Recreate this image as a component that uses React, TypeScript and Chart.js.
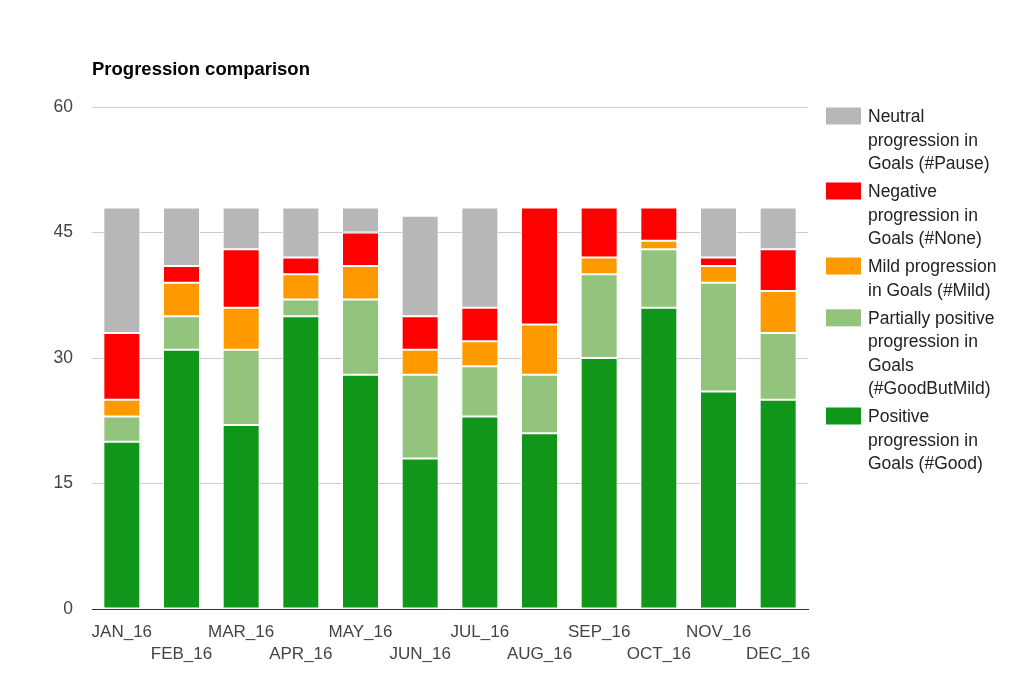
import React, { useEffect, useRef } from "react";
import { Chart, registerables } from "chart.js";

Chart.register(...registerables);

const categories = [
  "JAN_16", "FEB_16", "MAR_16", "APR_16", "MAY_16", "JUN_16",
  "JUL_16", "AUG_16", "SEP_16", "OCT_16", "NOV_16", "DEC_16",
];
const positive = [20, 31, 22, 35, 28, 18, 23, 21, 30, 36, 26, 25];
const partial = [3, 4, 9, 2, 9, 10, 6, 7, 10, 7, 13, 8];
const mild = [2, 4, 5, 3, 4, 3, 3, 6, 2, 1, 2, 5];
const negative = [8, 2, 7, 2, 4, 4, 4, 14, 6, 4, 1, 5];
const neutral = [15, 7, 5, 6, 3, 12, 12, 0, 0, 0, 6, 5];
const yTicks = [0, 15, 30, 45, 60];

const seriesLabels = [
  "Positive progression in Goals (#Good)",
  "Partially positive progression in Goals (#GoodButMild)",
  "Mild progression in Goals (#Mild)",
  "Negative progression in Goals (#None)",
  "Neutral progression in Goals (#Pause)",
];
const seriesColors = ["#109618", "#93c47d", "#ff9900", "#ff0000", "#b7b7b7"];
const title = "Progression comparison";

const FONT = "'Liberation Sans', Arial, sans-serif";

function wrap(ctx: CanvasRenderingContext2D, text: string, maxW: number): string[] {
  const words = text.split(" ");
  const lines: string[] = [];
  let cur = "";
  for (const w of words) {
    const test = cur ? cur + " " + w : w;
    if (cur && ctx.measureText(test).width > maxW) {
      lines.push(cur);
      cur = w;
    } else {
      cur = test;
    }
  }
  if (cur) lines.push(cur);
  return lines;
}

const overlayPlugin = {
  id: "overlay",
  afterDraw(chart: any) {
    const ctx = chart.ctx as CanvasRenderingContext2D;
    ctx.save();
    // title
    ctx.font = `bold 18.5px ${FONT}`;
    ctx.fillStyle = "#000";
    ctx.textAlign = "left";
    ctx.textBaseline = "alphabetic";
    ctx.fillText(title, chart.chartArea.left, 75);

    // legend (reverse order, top = last dataset)
    ctx.font = `17.5px ${FONT}`;
    ctx.textBaseline = "middle";
    const lineH = 23.2;
    const gap = 28.6;
    let y = 117.5;
    const ds = chart.data.datasets;
    for (let i = ds.length - 1; i >= 0; i--) {
      const lines = wrap(ctx, ds[i].label, 135);
      ctx.fillStyle = ds[i].backgroundColor;
      ctx.fillRect(826, y - 10, 35, 17);
      ctx.fillStyle = "#222";
      lines.forEach((ln, k) => ctx.fillText(ln, 868, y + k * lineH));
      y += (lines.length - 1) * lineH + gap;
    }
    ctx.restore();
  },
};

export default function App() {
  const ref = useRef<HTMLCanvasElement>(null);
  useEffect(() => {
    document.body.style.margin = "0";
    const values = [positive, partial, mild, negative, neutral];
    const chart = new Chart(ref.current as HTMLCanvasElement, {
      type: "bar",
      data: {
        labels: categories,
        datasets: values.map((v, i) => ({
          label: seriesLabels[i],
          data: v,
          backgroundColor: seriesColors[i],
          borderColor: "#ffffff",
          borderWidth: 1,
          borderSkipped: false,
          barPercentage: 0.62,
          categoryPercentage: 1,
        })),
      },
      options: {
        responsive: false,
        animation: false,
        layout: { padding: { top: 107, right: 216, left: 0, bottom: 0 } },
        plugins: {
          legend: { display: false },
          title: { display: false },
          tooltip: { enabled: false },
        },
        scales: {
          x: {
            stacked: true,
            grid: { display: false, drawTicks: false },
            border: { display: true, color: "#333", width: 1 },
            ticks: {
              autoSkip: false,
              maxRotation: 0,
              minRotation: 0,
              padding: 12,
              color: "#444",
              font: { family: FONT, size: 17, lineHeight: 1.3 },
              callback: (_v: any, i: number) =>
                i % 2 === 0 ? [categories[i], ""] : ["", categories[i]],
            },
            afterFit: (s: any) => {
              s.height = 73;
            },
          },
          y: {
            stacked: true,
            min: 0,
            max: 60,
            grid: { color: "#cccccc", drawTicks: false },
            border: { display: false },
            ticks: {
              padding: 19,
              color: "#444",
              font: { family: FONT, size: 17.5 },
            },
            afterBuildTicks: (s: any) => {
              s.ticks = yTicks.map((v) => ({ value: v }));
            },
            afterFit: (s: any) => {
              s.width = 92;
            },
          },
        },
      },
      plugins: [overlayPlugin],
    } as any);
    return () => chart.destroy();
  }, []);
  return (
    <div style={{ width: 1024, height: 682 }}>
      <canvas ref={ref} width={1024} height={682} style={{ display: "block" }} />
    </div>
  );
}
